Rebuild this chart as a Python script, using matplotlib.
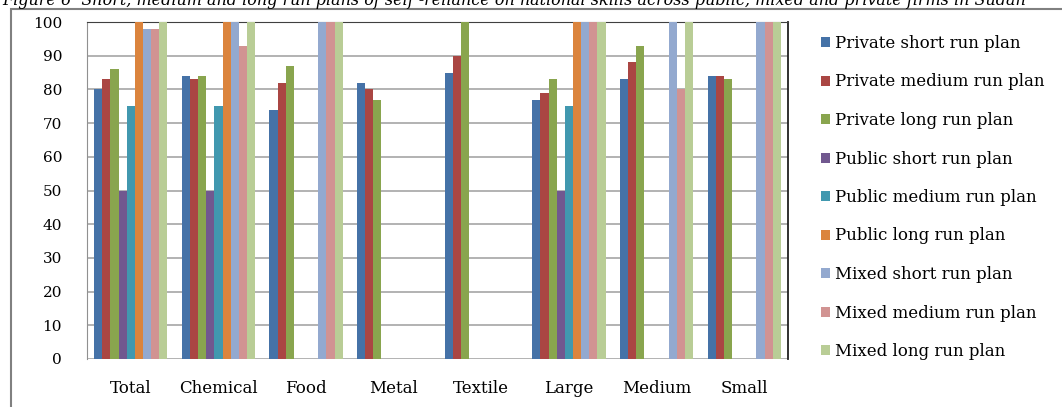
import matplotlib
matplotlib.use('Agg')
import matplotlib.pyplot as plt
import numpy as np
from matplotlib.patches import Rectangle

categories = ['Total', 'Chemical', 'Food', 'Metal', 'Textile', 'Large', 'Medium', 'Small']
series = ['Private short run plan', 'Private medium run plan', 'Private long run plan',
          'Public short run plan', 'Public medium run plan', 'Public long run plan',
          'Mixed short run plan', 'Mixed medium run plan', 'Mixed long run plan']
nan = np.nan
private_short  = [80, 84, 74, 82, 85, 77, 83, 84]
private_medium = [83, 83, 82, 80, 90, 79, 88, 84]
private_long   = [86, 84, 87, 77, 100, 83, 93, 83]
public_short   = [50, 50, nan, nan, nan, 50, nan, nan]
public_medium  = [75, 75, nan, nan, nan, 75, nan, nan]
public_long    = [100, 100, nan, nan, nan, 100, nan, nan]
mixed_short    = [98, 100, 100, nan, nan, 100, 100, 100]
mixed_medium   = [98, 93, 100, nan, nan, 100, 80, 100]
mixed_long     = [100, 100, 100, nan, nan, 100, 100, 100]
values = [private_short, private_medium, private_long, public_short, public_medium,
          public_long, mixed_short, mixed_medium, mixed_long]
colors = ['#4572A7', '#AA4643', '#89A54E', '#71588F', '#4198AF', '#DB843D',
          '#93A9CF', '#D19392', '#B9CD96']

W, H = 1062, 407
fig = plt.figure(figsize=(W/100, H/100), dpi=100)
ax = fig.add_axes([87/W, 1-359/H, (788-87)/W, (359-22)/H])

x = np.arange(len(categories))
bw = 0.093
for i, (vals, lab, c) in enumerate(zip(values, series, colors)):
    ax.bar(x + (i-4)*bw, vals, bw, color=c, label=lab, edgecolor='none', zorder=3)

ax.set_xlim(-0.5, len(categories)-0.5)
ax.set_ylim(0, 100)
ax.set_yticks(np.arange(0, 101, 10))
ax.yaxis.grid(True, color='#A6A6A6', lw=1.2, zorder=0)
ax.set_axisbelow(True)
ax.set_xticks(x)
ax.set_xticklabels(categories, family='DejaVu Serif', fontsize=12)
for t in ax.get_yticklabels():
    t.set_family('DejaVu Serif')
    t.set_fontsize(11)
ax.tick_params(axis='y', length=0, pad=18)
ax.tick_params(axis='x', length=0, pad=15)
ax.spines['bottom'].set_visible(False)
ax.spines['left'].set_color('#909090')
ax.spines['top'].set_color('#404040')
ax.spines['right'].set_color('#202020')
ax.spines['right'].set_linewidth(1.3)

# outer chart frame (cropped at right/bottom)
fig.patches.append(Rectangle((11/W, -0.1), 1.2, 1.1 - 9/H, transform=fig.transFigure,
                             fill=False, edgecolor='#808080', lw=1.5))

fig.text(0.002, 1-5/H, 'Figure 6  Short, medium and long run plans of self -reliance on national skills across public, mixed and private firms in Sudan',
         ha='left', va='baseline', family='DejaVu Serif', style='italic', fontsize=11.5)

leg = fig.legend(loc='upper left', bbox_to_anchor=(821/W, 1-35/H), frameon=False,
                 prop={'family': 'DejaVu Serif', 'size': 12}, handlelength=0.55, handleheight=0.55,
                 handletextpad=0.3, labelspacing=1.29, borderpad=0, borderaxespad=0)

fig.savefig('out.png', dpi=100)
